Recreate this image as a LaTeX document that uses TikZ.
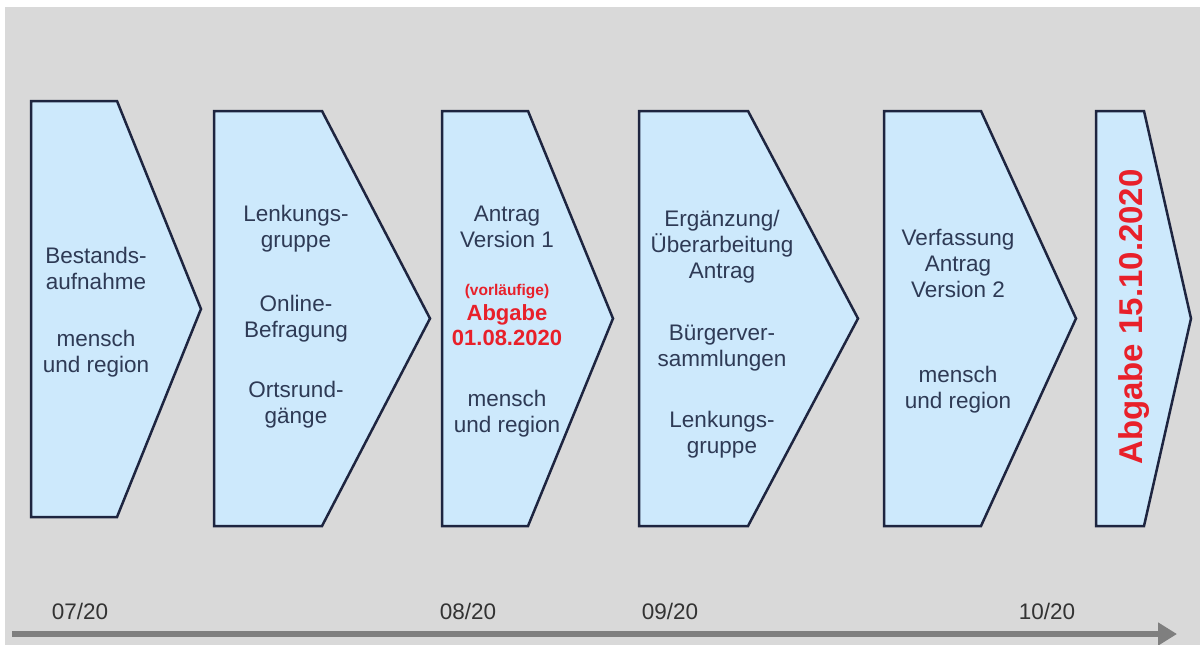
\documentclass[tikz,border=0pt]{standalone}
\usepackage{fontspec}
\setmainfont{Liberation Sans}
\usetikzlibrary{arrows.meta}
\definecolor{bggrey}{HTML}{D9D9D9}
\definecolor{fillblue}{HTML}{CDE9FC}
\definecolor{edgeblue}{HTML}{1E2540}
\definecolor{txtblue}{HTML}{2E3A55}
\definecolor{hred}{HTML}{E8202A}
\definecolor{axisgrey}{HTML}{7F7F7F}
\definecolor{datetxt}{HTML}{333333}
\newcommand\chevronshape[6]{% name, L, T, R, tip, B
  \draw[chev] (#2,#3) -- (#4,#3) -- (#5,{(#3+#6)/2}) -- (#4,#6) -- (#2,#6) -- cycle;
  \coordinate (#1) at ({(#2+#5)/2},{(#3+#6)/2});}
\begin{document}
\begin{tikzpicture}[x=1pt,y=-1pt,
  chev/.style={fill=fillblue,draw=edgeblue,line width=2.5pt,line join=miter},
  lbl/.style={text=txtblue,align=center,inner sep=0pt,font=\fontsize{22.5}{26}\selectfont},
  redlbl/.style={text=hred,align=center,inner sep=0pt,font=\bfseries\fontsize{22}{25.5}\selectfont},
  redsmall/.style={text=hred,align=center,inner sep=0pt,font=\bfseries\fontsize{15.5}{18}\selectfont},
  datelbl/.style={text=datetxt,inner sep=0pt,font=\fontsize{22.5}{26}\selectfont},
  timeline/.style={draw=axisgrey,line width=6.5pt,-{Triangle[length=19pt,width=22pt]}}]
\useasboundingbox (0,0) rectangle (1200,645);
\fill[white] (0,0) rectangle (1200,645);
\fill[bggrey] (5,7) rectangle (1200,645);

% chevrons
\chevronshape{c1}{31}{101}{117}{201}{517}
\chevronshape{c2}{214}{111}{322}{430}{526}
\chevronshape{c3}{442}{111}{528}{613}{526}
\chevronshape{c4}{639}{111}{748}{858}{526}
\chevronshape{c5}{884}{111}{981}{1076}{526}
\chevronshape{c6}{1096}{111}{1144}{1191}{526}

% texts
\node[lbl] (t1a) at (96,268) {Bestands-\\aufnahme};
\node[lbl] (t1b) at (96,354) {mensch\\und region};

\node[lbl] (t2a) at (296,229) {Lenkungs-\\gruppe};
\node[lbl] (t2b) at (296,319) {Online-\\Befragung};
\node[lbl] (t2c) at (296,405) {Ortsrund-\\gänge};

\node[lbl] (t3a) at (507,227) {Antrag\\Version 1};
\node[redsmall] (t3b) at (507,292) {(vorläufige)};
\node[redlbl] (t3c) at (507,325) {Abgabe\\01.08.2020};
\node[lbl] (t3d) at (507,414) {mensch\\und region};

\node[lbl] (t4a) at (722,247) {Ergänzung/\\Überarbeitung\\Antrag};
\node[lbl] (t4b) at (722,348) {Bürgerver-\\sammlungen};
\node[lbl] (t4c) at (722,435) {Lenkungs-\\gruppe};

\node[lbl] (t5a) at (958,263) {Verfassung\\Antrag\\Version 2};
\node[lbl] (t5b) at (958,390) {mensch\\und region};

\node[text=hred,inner sep=0pt,rotate=90,font=\bfseries\fontsize{33}{37}\selectfont] (t6) at (1134,317) {Abgabe 15.10.2020};

% timeline
\coordinate (tlstart) at (12,634);
\coordinate (tlend) at (1177,634);
\draw[timeline] (tlstart) -- (tlend);
\node[datelbl] (d1) at (80,611) {07/20};
\node[datelbl] (d2) at (468,611) {08/20};
\node[datelbl] (d3) at (670,611) {09/20};
\node[datelbl] (d4) at (1047,611) {10/20};
\end{tikzpicture}
\end{document}
